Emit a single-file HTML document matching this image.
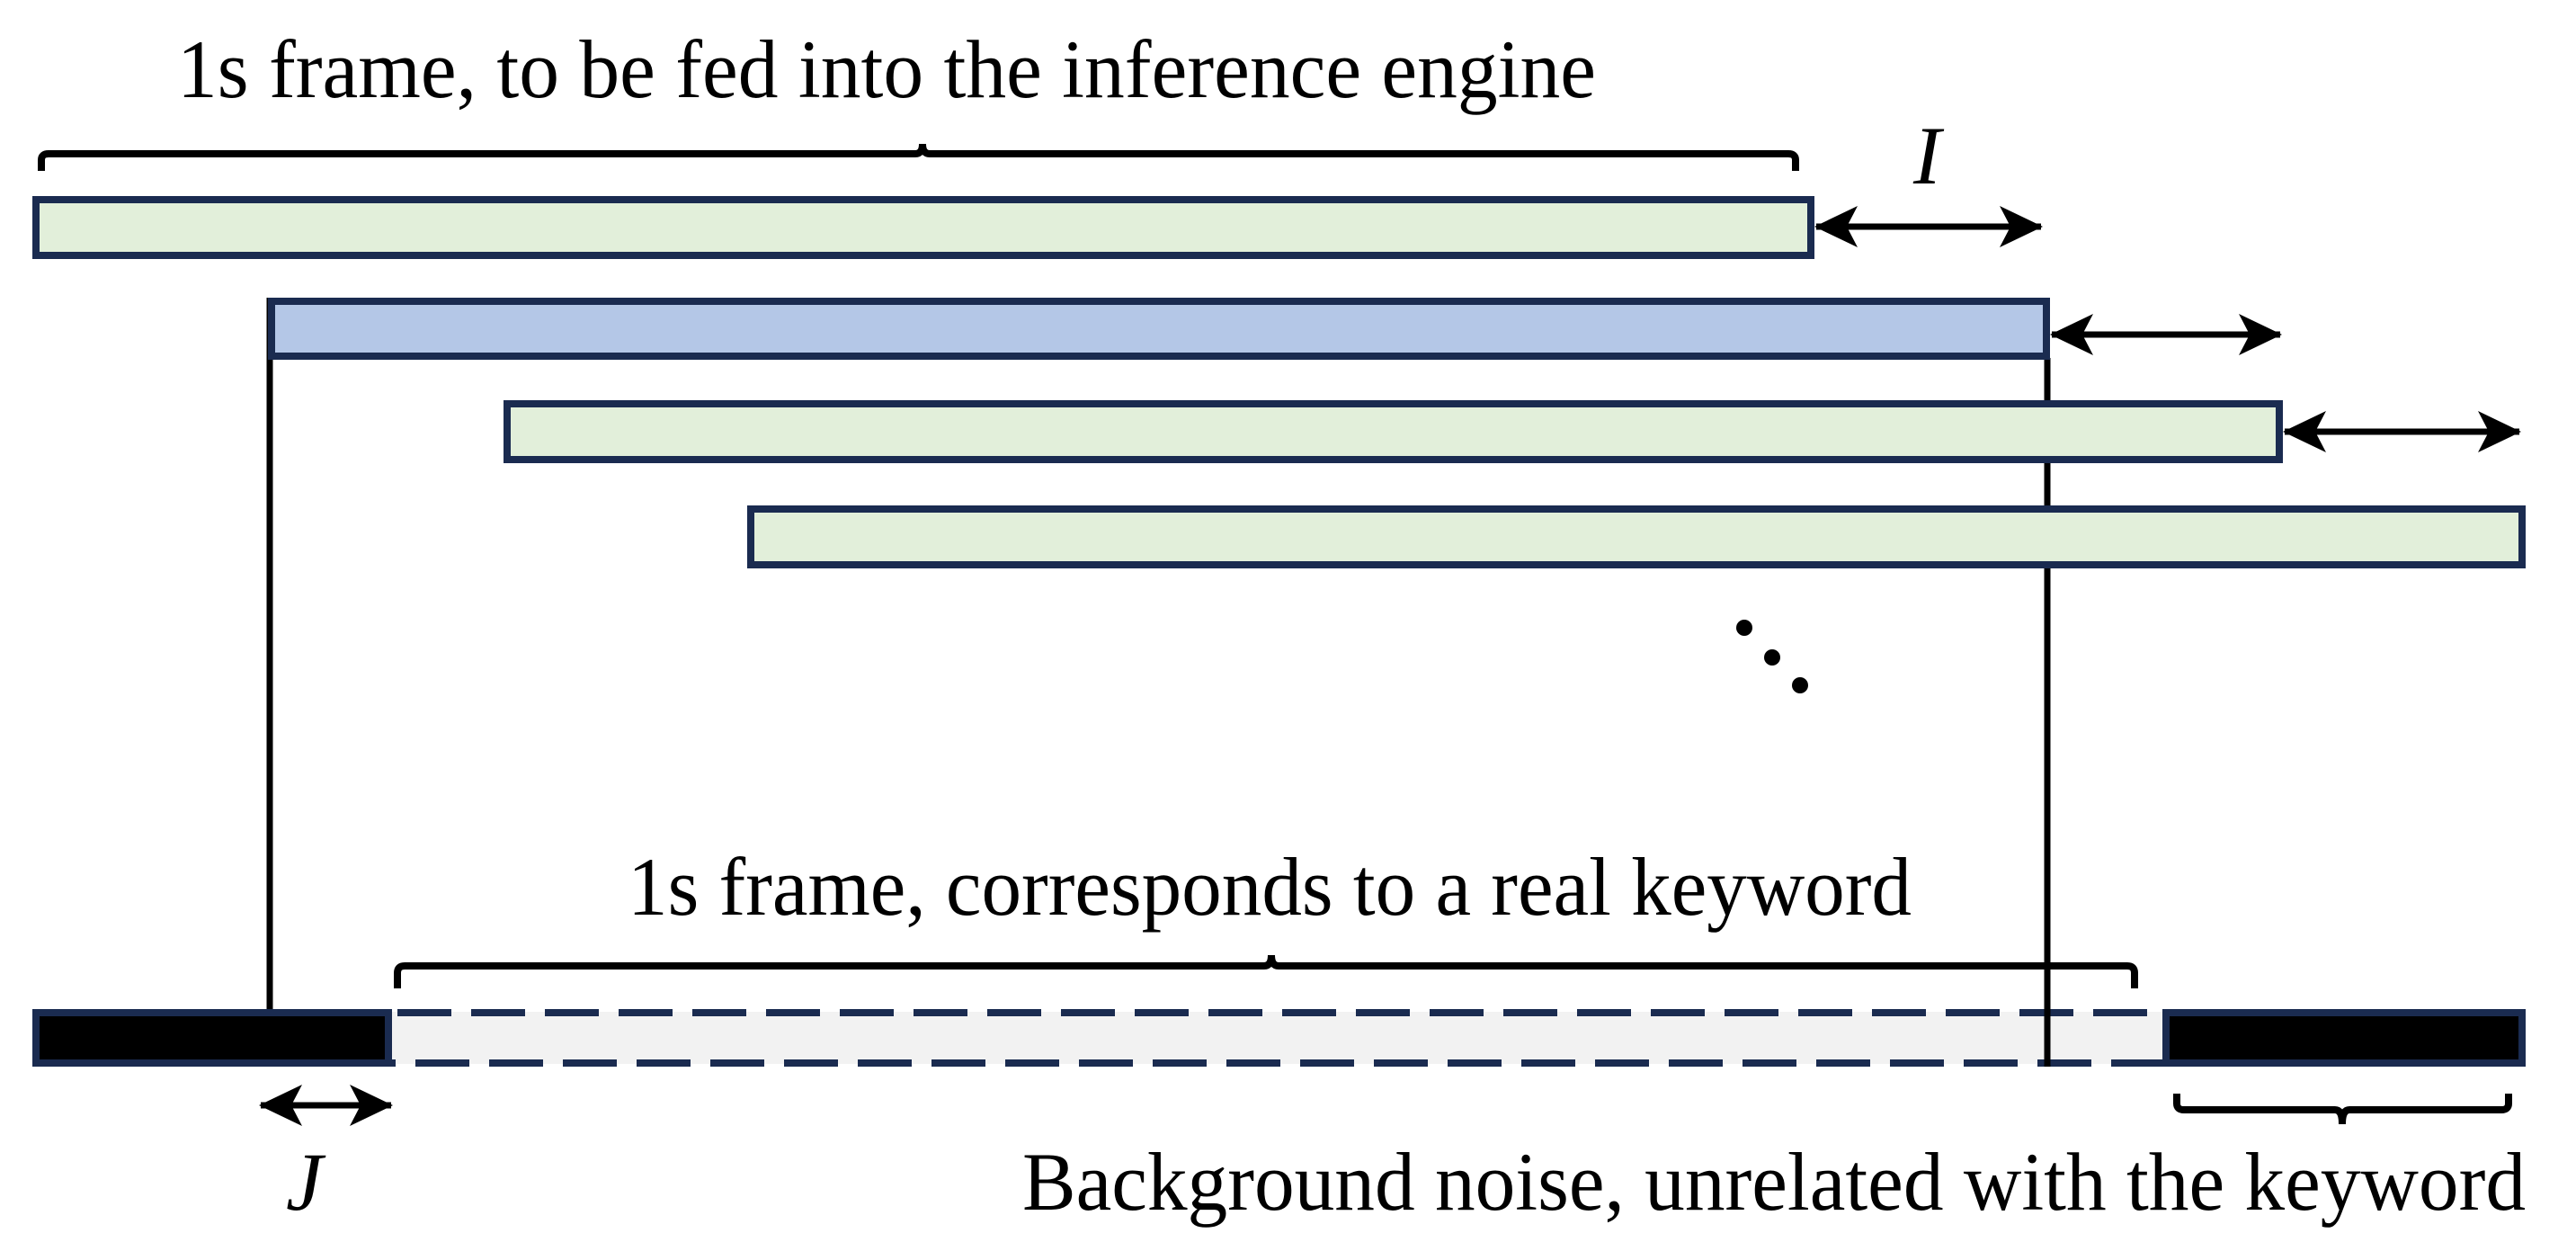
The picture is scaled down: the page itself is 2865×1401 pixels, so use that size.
<!DOCTYPE html>
<html><head><meta charset="utf-8"><style>html,body{margin:0;padding:0;background:#fff}svg{display:block}</style></head>
<body>
<svg width="2865" height="1401" viewBox="0 0 2865 1401" xmlns="http://www.w3.org/2000/svg">
<defs>
<marker id="ah" viewBox="0 0 48 46" refX="46" refY="23" markerWidth="48" markerHeight="46" markerUnits="userSpaceOnUse" orient="auto-start-reverse">
<path d="M0,0 L48,23 L0,46 L12,23 Z" fill="#000"/>
</marker>
</defs>
<g font-family="'Liberation Serif', serif" font-size="92" fill="#000">
<text x="197" y="108" textLength="1578" lengthAdjust="spacingAndGlyphs">1s frame, to be fed into the inference engine</text>
<text x="698" y="1017" textLength="1428" lengthAdjust="spacingAndGlyphs">1s frame, corresponds to a real keyword</text>
<text x="1137" y="1345" textLength="1672" lengthAdjust="spacingAndGlyphs">Background noise, unrelated with the keyword</text>
<text x="2128" y="204" font-style="italic">I</text>
<text x="318" y="1345" font-style="italic">J</text>
</g>
<!-- braces -->
<g fill="none" stroke="#000" stroke-width="8">
<path d="M46,190 V178 Q46,171 54,171 H1018 Q1026,171 1026,160 Q1026,171 1034,171 H1989 Q1997,171 1997,178 V190"/>
<path d="M442,1099 V1082 Q442,1074 450,1074 H1406 Q1414,1074 1414,1062 Q1414,1074 1422,1074 H2366 Q2374,1074 2374,1082 V1099"/>
<path d="M2421,1216 V1227 Q2421,1234 2429,1234 H2597 Q2605,1234 2605,1250 Q2605,1234 2613,1234 H2782 Q2790,1234 2790,1227 V1216"/>
</g>
<!-- vertical lines -->
<line x1="300" y1="331" x2="300" y2="1124" stroke="#000" stroke-width="7"/>
<line x1="2277" y1="398" x2="2277" y2="1184" stroke="#000" stroke-width="7"/>
<!-- bars -->
<g stroke="#1a2b50" stroke-width="8">
<rect x="40" y="222" width="1974" height="62" fill="#e2efda"/>
<rect x="302" y="335" width="1974" height="61" fill="#b4c7e7"/>
<rect x="564" y="449" width="1971" height="62" fill="#e2efda"/>
<rect x="835" y="566" width="1970" height="62" fill="#e2efda"/>
</g>
<line x1="2277" y1="400" x2="2277" y2="445" stroke="#000" stroke-width="7"/>
<line x1="2277" y1="515" x2="2277" y2="562" stroke="#000" stroke-width="7"/>
<!-- arrows -->
<g stroke="#000" stroke-width="7" marker-start="url(#ah)" marker-end="url(#ah)">
<line x1="2020" y1="252" x2="2270" y2="252"/>
<line x1="2282" y1="372" x2="2536" y2="372"/>
<line x1="2541" y1="480" x2="2802" y2="480"/>
<line x1="290" y1="1229" x2="435" y2="1229"/>
</g>
<!-- dots -->
<circle cx="1940" cy="698" r="9"/>
<circle cx="1971" cy="731" r="9"/>
<circle cx="2002" cy="762" r="9"/>
<!-- bottom row -->
<rect x="432" y="1125" width="1973" height="58" fill="#f2f2f2"/>
<line x1="432" y1="1126" x2="2405" y2="1126" stroke="#1a2b50" stroke-width="8" stroke-dasharray="60 22" stroke-dashoffset="-10"/>
<line x1="432" y1="1182" x2="2405" y2="1182" stroke="#1a2b50" stroke-width="8" stroke-dasharray="60 22" stroke-dashoffset="-30"/>
<g stroke="#1a2b50" stroke-width="8" fill="#000">
<rect x="40" y="1126" width="392" height="56"/>
<rect x="2409" y="1126" width="396" height="56"/>
</g>
<line x1="2277" y1="1120" x2="2277" y2="1186" stroke="#000" stroke-width="7"/>
</svg>
</body></html>
